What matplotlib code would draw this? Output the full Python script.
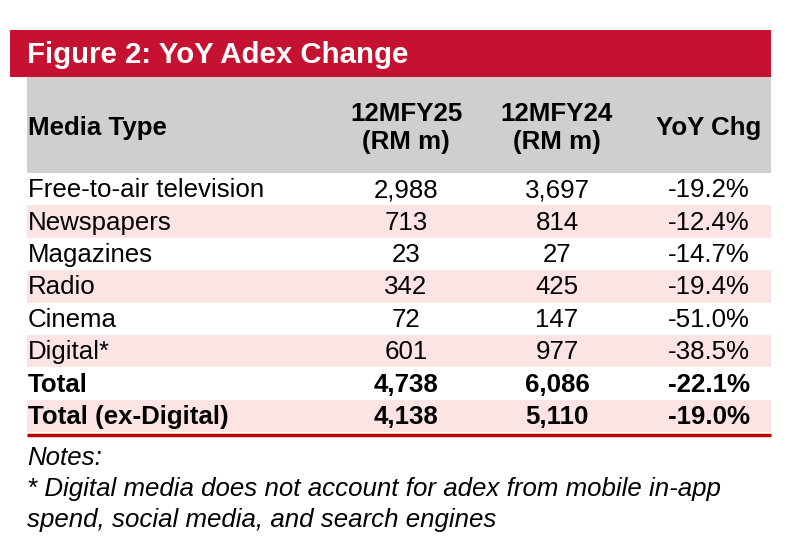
import matplotlib.pyplot as plt
from matplotlib.patches import Rectangle

plt.rcParams['font.family'] = ['Liberation Sans', 'DejaVu Sans']

# table content
title = 'Figure 2: YoY Adex Change'
col_headers = ['Media Type', '12MFY25\n(RM m)', '12MFY24\n(RM m)', 'YoY Chg']
media_types = ['Free-to-air television', 'Newspapers', 'Magazines', 'Radio',
               'Cinema', 'Digital*', 'Total', 'Total (ex-Digital)']
fy25 = [2988, 713, 23, 342, 72, 601, 4738, 4138]
fy24 = [3697, 814, 27, 425, 147, 977, 6086, 5110]
yoy_chg = [-19.2, -12.4, -14.7, -19.4, -51.0, -38.5, -22.1, -19.0]
bold_rows = ['Total', 'Total (ex-Digital)']
notes = ['Notes:',
         '* Digital media does not account for adex from mobile in-app',
         'spend, social media, and search engines']

RED = '#C41230'
GREY = '#D0CECE'
PINK = '#FDE4E4'
LINE = '#C00000'
FS = 18.6

fig = plt.figure(figsize=(7.94, 5.46), dpi=100)
ax = fig.add_axes([0, 0, 1, 1])
ax.set_xlim(0, 794)
ax.set_ylim(546, 0)
ax.axis('off')

left, right = 27, 771
col_x = [28, 406, 557, 709]

# title bar
ax.add_patch(Rectangle((10, 30), right - 10, 47, color=RED, lw=0))
ax.text(27, 55, title, color='white', fontsize=21.2, fontweight='bold',
        va='center', ha='left')

# header
ax.add_patch(Rectangle((left, 77), right - left, 96, color=GREY, lw=0))
for i, h in enumerate(col_headers):
    ha = 'left' if i == 0 else 'center'
    ax.text(col_x[i], 128, h, fontsize=FS, fontweight='bold', ha=ha,
            va='center', linespacing=1.2)

# body rows
row_top = 173
row_h = 32.4
for i, name in enumerate(media_types):
    y0 = row_top + i * row_h
    if i % 2 == 1:
        ax.add_patch(Rectangle((left, y0), right - left, row_h, color=PINK, lw=0))
    yc = y0 + row_h / 2 + 1
    fw = 'bold' if name in bold_rows else 'normal'
    vals = [name, f'{fy25[i]:,}', f'{fy24[i]:,}', f'{yoy_chg[i]:.1f}%']
    for j, v in enumerate(vals):
        ha = 'left' if j == 0 else 'center'
        ax.text(col_x[j], yc, v, fontsize=FS, fontweight=fw, ha=ha, va='center')

bottom = row_top + len(media_types) * row_h
ax.plot([left, right], [bottom + 3, bottom + 3], color=LINE, lw=2.5,
        solid_capstyle='butt')

# notes
for k, line in enumerate(notes):
    ax.text(27, 458 + k * 31, line, fontsize=FS, style='italic',
            ha='left', va='center')

fig.savefig('out.png', dpi=100)
